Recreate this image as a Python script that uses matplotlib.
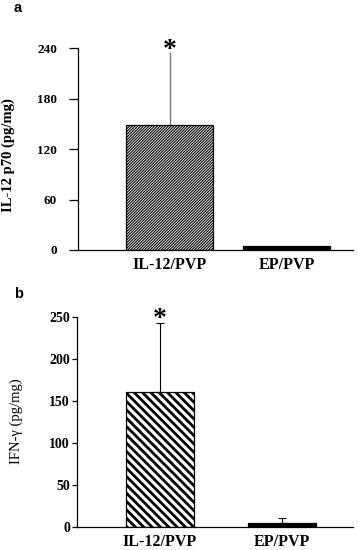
import matplotlib
matplotlib.use("Agg")
import matplotlib.pyplot as plt

categories = ["IL-12/PVP", "EP/PVP"]
il12_means = [148, 5]
il12_err = [87, 0]
ifn_means = [160, 5]
ifn_err = [83, 6]
yticks_a = [0, 60, 120, 180, 240]
yticks_b = [0, 50, 100, 150, 200, 250]

W, H = 358, 550
fig = plt.figure(figsize=(W / 100, H / 100), dpi=100)
serif = "Liberation Serif"


def frac(x0, y0, x1, y1):
    return [x0 / W, 1 - y1 / H, (x1 - x0) / W, (y1 - y0) / H]


def style(ax, yticks, ylim, tsize, tlen, tpad):
    ax.set_ylim(*ylim)
    ax.set_yticks(yticks)
    ax.spines["top"].set_visible(False)
    ax.spines["right"].set_visible(False)
    for s in ("left", "bottom"):
        ax.spines[s].set_linewidth(0.9)
    ax.tick_params(axis="y", direction="out", length=tlen, width=0.9, pad=tpad)
    ax.tick_params(axis="x", length=0, pad=5)
    for lab in ax.get_yticklabels():
        lab.set_fontfamily(serif)
        lab.set_fontweight("bold")
        lab.set_fontsize(tsize)
    for lab in ax.get_xticklabels():
        lab.set_fontfamily(serif)
        lab.set_fontweight("bold")
        lab.set_fontsize(11.5)


x = [0, 1]

# ---- panel a ----
axa = fig.add_axes(frac(78, 48, 353, 250))
with plt.rc_context({"hatch.linewidth": 0.8}):
    axa.bar(x[0], il12_means[0], width=0.74, color="white",
            edgecolor="black", hatch="////////////", linewidth=0.9, zorder=2)
axa.bar(x[1], il12_means[1], width=0.74, color="black",
        edgecolor="black", linewidth=0.9, zorder=2)
axa.errorbar(x[0], il12_means[0], yerr=[[0], [il12_err[0]]], fmt="none",
             ecolor="#777777", elinewidth=1.0, capsize=0, zorder=1)
axa.text(x[0], il12_means[0] + il12_err[0] + 2, "*", ha="center", va="center",
         fontsize=20, fontweight="bold", family=serif, clip_on=False)
axa.set_xlim(-0.782, 1.568)
axa.set_xticks(x)
axa.set_xticklabels(categories)
style(axa, yticks_a, (0, 240), 9.5, 6.5, 8.5)
axa.set_ylabel("IL-12 p70 (pg/mg)", family=serif, fontweight="bold", fontsize=10.5)
axa.yaxis.set_label_coords(-0.228, 0.47)
fig.text(14 / W, 1 - 8 / H, "a", fontsize=10.5, fontweight="bold",
         family="Liberation Sans", va="center", ha="left")

# ---- panel b ----
axb = fig.add_axes(frac(77, 316.7, 353, 527))
with plt.rc_context({"hatch.linewidth": 2.0}):
    axb.bar(x[0], ifn_means[0], width=0.56, color="white",
            edgecolor="black", hatch="\\\\\\\\", linewidth=0.9, zorder=2)
axb.bar(x[1], ifn_means[1], width=0.56, color="black",
        edgecolor="black", linewidth=0.9, zorder=2)
axb.errorbar(x, ifn_means, yerr=[[0, 0], ifn_err], fmt="none",
             ecolor="black", elinewidth=0.8, capsize=3, capthick=0.8, zorder=1)
axb.text(x[0], ifn_means[0] + ifn_err[0] + 4, "*", ha="center", va="center",
         fontsize=20, fontweight="bold", family=serif, clip_on=False)
axb.set_xlim(-0.683, 1.588)
axb.set_xticks(x)
axb.set_xticklabels(categories)
style(axb, yticks_b, (0, 250), 10, 3.6, 1.5)
axb.set_ylabel("IFN-\u03b3 (pg/mg)", family=serif, fontsize=10.5)
axb.yaxis.set_label_coords(-0.196, 0.505)
fig.text(14 / W, 1 - 294 / H, "b", fontsize=10.5, fontweight="bold",
         family="Liberation Sans", va="center", ha="left")

fig.savefig("out.png", dpi=100)
